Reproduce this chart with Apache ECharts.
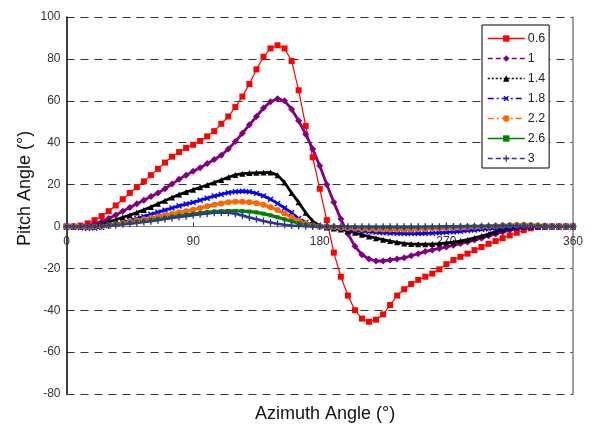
<!DOCTYPE html>
<html><head><meta charset="utf-8">
<script src="https://cdn.jsdelivr.net/npm/echarts@6/dist/echarts.min.js"></script>
<style>html,body{margin:0;padding:0;background:#fff}#c{width:595px;height:428px}</style>
</head><body><div id="c"></div><script>
// Azimuth angle (deg)
const azimuth = [0,5,10,15,20,25,30,35,40,45,
 50,55,60,65,70,75,80,85,90,95,
 100,105,110,115,120,125,130,135,140,145,
 150,155,160,165,170,175,180,185,190,195,
 200,205,210,215,220,225,230,235,240,245,
 250,255,260,265,270,275,280,285,290,295,
 300,305,310,315,320,325,330,335,340,345,
 350,355,360];
const seriesNames = ['0.6','1','1.4','1.8','2.2','2.6','3'];
const xTicks = [0,90,180,270,360];
const yTicks = [-80,-60,-40,-20,0,20,40,60,80,100];

const pitch06 = [0,0,0.4,1.5,3,5,7.3,10,13,16,
 18.8,21.5,24.5,27.5,30.5,33.3,35.5,37.5,39,40.8,
 43,45.5,49,52.5,57,62,68,75,81,85,
 86.5,85,79,65,48,33,18,3,-12.5,-24,
 -33,-40,-44,-45.5,-44.5,-42,-37.5,-33,-30,-27.5,
 -25.5,-24,-22.5,-20.5,-18,-16,-14.5,-13,-11.3,-9.8,
 -8.3,-7,-5.6,-4.3,-3,-1.8,-0.9,-0.3,0,0,
 0,0,0];
const pitch10 = [0,0,0,0.5,1.2,2.3,3.8,5.5,7.3,9,
 10.8,12.5,14.3,16,18,20.3,22.5,24.5,26.3,28,
 30,32,34,37,40.5,44.5,48.5,52.5,56.5,59.5,
 61,60,56,50.5,44,37,29,20,11.5,3.5,
 -3.5,-9.5,-13.5,-15.5,-16.5,-16.5,-16,-15.5,-15,-14,
 -13,-12,-11.2,-10.5,-9.8,-9,-8.2,-7.4,-6.5,-5.6,
 -4.5,-3.6,-2.6,-1.7,-1,-0.5,-0.2,0,0,0,
 0,0,0];
const pitch14 = [0,0,0,0.2,0.6,1.3,2.2,3.2,4.3,5.4,
 6.6,7.9,9.3,10.8,12.3,13.8,15.2,16.4,17.5,18.7,
 19.8,21,22.2,23.5,24.6,25.2,25.5,25.6,25.7,25.8,
 24.5,21,16,11.5,6.5,2.5,0.3,-0.5,-1,-1.5,
 -2,-3,-4,-4.8,-5.6,-6.3,-7,-7.6,-8.1,-8.4,
 -8.5,-8.5,-8.4,-8.2,-7.9,-7.5,-7,-6.3,-5.5,-4.6,
 -3.6,-2.5,-1.5,-0.8,-0.4,-0.1,0,0,0,0,
 0,0,0];
const pitch18 = [0,-0.3,-0.6,-0.9,-0.8,-0.4,0.3,1,1.9,2.8,
 3.8,4.8,5.8,6.8,7.8,8.8,9.8,10.7,11.5,12.5,
 13.5,14.5,15.3,16.1,16.6,16.8,16.6,15.8,14.6,13,
 11,8.8,6.5,3.8,1.9,0.7,0,-0.3,-0.6,-1,
 -1.4,-1.8,-2.2,-2.5,-2.8,-3,-3.2,-3.3,-3.4,-3.4,
 -3.4,-3.3,-3.2,-3,-2.8,-2.6,-2.3,-2,-1.7,-1.4,
 -1.1,-0.8,-0.5,-0.3,-0.1,0,0,0,0,0,
 0,0,0];
const pitch22 = [0,0,-0.2,-0.3,-0.2,0,0.5,1,1.6,2.2,
 2.8,3.4,4,4.7,5.3,6,6.7,7.3,8,8.8,
 9.6,10.4,11,11.5,11.8,11.8,11.6,11.1,10.3,9.2,
 7.8,6.2,4.5,2.8,1.4,0.4,0,-0.2,-0.4,-0.6,
 -0.8,-1,-1.2,-1.3,-1.4,-1.5,-1.5,-1.5,-1.5,-1.4,
 -1.3,-1.2,-1.1,-1,-0.9,-0.8,-0.6,-0.5,-0.3,-0.2,
 0,0.2,0.4,0.6,0.7,0.8,0.7,0.5,0.3,0.1,
 0,0,0];
const pitch26 = [0,0,0,0,0.1,0.3,0.6,1,1.4,1.8,
 2.3,2.7,3.1,3.6,4.1,4.6,5.1,5.6,6,6.4,
 6.8,7.1,7.3,7.4,7.4,7.3,7.1,6.7,6.1,5.3,
 4.4,3.4,2.5,1.6,0.9,0.4,0.1,0,-0.1,-0.2,
 -0.3,-0.3,-0.4,-0.4,-0.4,-0.4,-0.4,-0.4,-0.4,-0.4,
 -0.4,-0.4,-0.3,-0.3,-0.2,-0.2,-0.1,0,0,0.1,
 0.2,0.3,0.4,0.5,0.5,0.6,0.5,0.4,0.3,0.1,
 0,0,0];
const pitch30 = [0,0,0,0,0,0.2,0.4,0.7,1,1.3,
 1.7,2.1,2.5,3,3.5,4,4.5,4.9,5.3,5.8,
 6.2,6.5,6.6,6.5,6.1,5.2,4.3,3.4,2.6,1.9,
 1.3,0.8,0.4,0.2,0.1,0,0,0,0,-0.1,
 -0.1,-0.2,-0.2,-0.2,-0.2,-0.2,-0.2,-0.2,-0.2,-0.2,
 -0.2,-0.1,-0.1,-0.1,0,0,0,0,0.1,0.1,
 0.2,0.2,0.3,0.3,0.3,0.3,0.2,0.2,0.1,0,
 0,0,0];
const allPitch = [pitch06,pitch10,pitch14,pitch18,pitch22,pitch26,pitch30];

const plusPath = 'path://M4,0H6V4H10V6H6V10H4V6H0V4H4Z';
const styles = [
  {color:'#FF0000', symbol:'rect', size:6, lw:1.2, type:'solid'},
  {color:'#800080', symbol:'diamond', size:7, lw:2.8, type:[5,3]},
  {color:'#000000', symbol:'triangle', size:6, lw:2.8, type:[2,2]},
  {color:'#0000FF', symbol:plusPath, rot:45, size:7, lw:2.8, type:[6,3,2,3]},
  {color:'#FF6600', symbol:'circle', size:6, lw:3.2, type:[6,3,2,3]},
  {color:'#008000', symbol:'rect', size:4, lw:3.2, type:'solid'},
  {color:'#333399', symbol:plusPath, size:7, lw:2.5, type:[5,3]}
];
const FONT = 'Liberation Sans, Arial, sans-serif';

const GRID = {left:66.5, right:22, top:17, bottom:34};
const plotH = 428 - GRID.top - GRID.bottom;
const yMin = yTicks[0], yMax = yTicks[yTicks.length-1];
// shift the x axis from the bottom edge up to the zero line
const zeroOffset = -plotH * (0 - yMin) / (yMax - yMin);

const chart = echarts.init(document.getElementById('c'), null, {renderer:'canvas'});
const series = seriesNames.map((n,i)=>({
  name:n, type:'line', xAxisIndex:0, yAxisIndex:0,
  data: azimuth.map((a,k)=>[a, allPitch[i][k]]),
  symbol: styles[i].symbol, symbolSize: styles[i].size, symbolRotate: styles[i].rot||0,
  showAllSymbol:true, animation:false,
  lineStyle:{color:styles[i].color, width:styles[i].lw, type:'solid'},
  itemStyle:{color:styles[i].color},
  emphasis:{disabled:true}
}));

chart.setOption({
  animation:false,
  backgroundColor:'#fff',
  textStyle:{fontFamily:FONT},
  grid:GRID,
  title:{
    text:'Azimuth Angle (°)', left:320, top:400, textAlign:'center',
    textStyle:{fontSize:18, fontWeight:'normal', color:'#111', fontFamily:FONT}
  },
  legend:{
    orient:'vertical', left:482, top:25,
    backgroundColor:'#fff', borderColor:'#000', borderWidth:1,
    padding:[7,4,3,5], itemWidth:37, itemHeight:8, itemGap:7,
    textStyle:{fontSize:12.5, color:'#222', fontFamily:FONT, padding:[0,0,0,-2]},
    data: seriesNames.map((n,i)=>({name:n,
      lineStyle:{type:styles[i].type, width:1.5, color:styles[i].color},
      itemStyle:{color:styles[i].color}}))
  },
  xAxis:[{
    type:'value', min:xTicks[0], max:xTicks[xTicks.length-1], interval:90,
    position:'bottom', offset:zeroOffset,
    axisLine:{show:true, onZero:false, lineStyle:{color:'#808080', width:1.2}},
    axisTick:{show:true, inside:true, length:4, lineStyle:{color:'#333'}},
    axisLabel:{fontSize:12, color:'#333', margin:9, fontFamily:FONT},
    splitLine:{show:false}
  }],
  yAxis:[{
    type:'value', min:yMin, max:yMax, interval:20,
    axisLine:{show:true, onZero:false, lineStyle:{color:'#000', width:1.5}},
    axisTick:{show:false},
    axisLabel:{fontSize:12, color:'#333', margin:6, fontFamily:FONT},
    splitLine:{show:true, lineStyle:{color:'#333', type:[8,6], width:1}},
    name:'Pitch Angle (°)', nameLocation:'middle', nameGap:32, nameMoveOverlap:false,
    nameTextStyle:{fontSize:18, color:'#111', fontFamily:FONT, padding:[0,0,0,34]}
  },{
    type:'value', min:yMin, max:yMax, interval:20, position:'right',
    axisLine:{show:true, onZero:false, lineStyle:{color:'#808080', width:1.5}},
    axisTick:{show:false}, axisLabel:{show:false}, splitLine:{show:false}
  }],
  series: series
});
</script></body></html>
